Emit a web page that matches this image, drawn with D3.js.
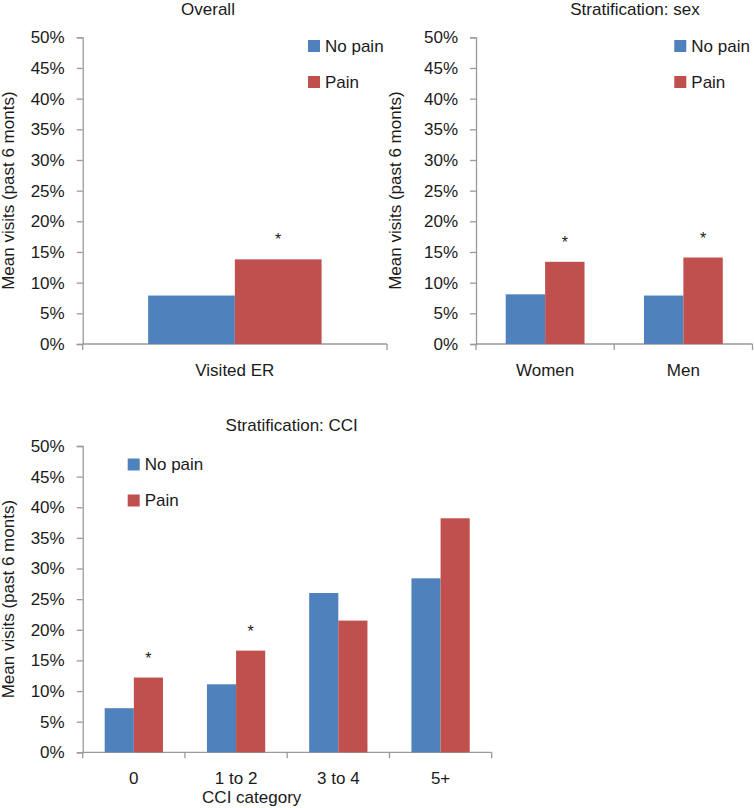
<!DOCTYPE html>
<html>
<head>
<meta charset="utf-8">
<script src="https://cdn.jsdelivr.net/npm/d3@7"></script>
<style>
  html, body { margin: 0; padding: 0; background: #fff; }
  svg { display: block; }
  text { font-family: "Liberation Sans", Arial, sans-serif; fill: #1a1a1a; }
</style>
</head>
<body>
<svg id="chart" width="754" height="808"></svg>
<script>
// ---- Data ----
const series = ["No pain", "Pain"];
const colors = ["#4F81BD", "#C0504D"];
const yTicks = [0, 0.05, 0.10, 0.15, 0.20, 0.25, 0.30, 0.35, 0.40, 0.45, 0.50];
const yLabel = "Mean visits (past 6 monts)";

const overallCategories = ["Visited ER"];
const overallNoPain = [0.079];
const overallPain = [0.138];
const overallSig = [true];

const sexCategories = ["Women", "Men"];
const sexNoPain = [0.081, 0.079];
const sexPain = [0.134, 0.141];
const sexSig = [true, true];

const cciCategories = ["0", "1 to 2", "3 to 4", "5+"];
const cciNoPain = [0.072, 0.111, 0.260, 0.284];
const cciPain = [0.122, 0.166, 0.215, 0.382];
const cciSig = [true, true, false, false];

const FS = 17;
const svg = d3.select("#chart");

function panel(cfg) {
  const g = svg.append("g");
  const x = d3.scaleBand().domain(cfg.categories).range([cfg.left, cfg.right]).padding(0);
  const step = x.bandwidth();
  const x1 = d3.scaleBand().domain(series).range([step * 0.215, step * 0.785]).padding(0);
  const y = d3.scaleLinear().domain([0, 0.5]).range([cfg.bottom, cfg.top]);

  // y axis
  const ya = g.append("g").attr("transform", `translate(${cfg.left},0)`)
    .call(d3.axisLeft(y).tickValues(yTicks).tickFormat(d3.format(".0%")).tickSize(6).tickPadding(12));
  ya.selectAll("path, line").attr("stroke", "#9a9a9a").attr("stroke-width", 1.3);
  ya.selectAll("text").attr("font-size", FS).attr("font-family", "Liberation Sans, Arial, sans-serif").attr("fill", "#1a1a1a");

  // x axis (domain line + boundary ticks)
  g.append("line").attr("x1", cfg.left).attr("x2", cfg.right)
    .attr("y1", cfg.bottom).attr("y2", cfg.bottom).attr("stroke", "#9a9a9a").attr("stroke-width", 1.3);
  const bounds = cfg.categories.map(c => x(c)).concat([cfg.right]);
  g.selectAll(".xt").data(bounds).join("line")
    .attr("x1", d => d).attr("x2", d => d)
    .attr("y1", cfg.bottom).attr("y2", cfg.bottom + 6)
    .attr("stroke", "#9a9a9a").attr("stroke-width", 1.3);
  g.selectAll(".xl").data(cfg.categories).join("text")
    .attr("x", d => x(d) + step / 2).attr("y", cfg.bottom + 32)
    .attr("text-anchor", "middle").attr("font-size", FS).text(d => d);

  // bars
  const rows = cfg.categories.map((c, i) => ({ c, vals: [cfg.noPain[i], cfg.pain[i]], sig: cfg.sig[i] }));
  const grp = g.selectAll(".grp").data(rows).join("g")
    .attr("transform", d => `translate(${x(d.c)},0)`);
  grp.selectAll("rect").data(d => d.vals.map((v, j) => ({ s: series[j], v, j }))).join("rect")
    .attr("x", d => x1(d.s)).attr("width", x1.bandwidth())
    .attr("y", d => y(d.v)).attr("height", d => cfg.bottom - y(d.v))
    .attr("fill", d => colors[d.j]);
  grp.filter(d => d.sig).append("text")
    .attr("x", x1("Pain") + x1.bandwidth() / 2)
    .attr("y", d => y(d.vals[1]) - 14)
    .attr("text-anchor", "middle").attr("font-size", 16).text("*");

  // title
  g.append("text").attr("x", cfg.titleX).attr("y", cfg.titleY)
    .attr("text-anchor", "middle").attr("font-size", FS).text(cfg.title);

  // y label
  g.append("text").attr("transform", `translate(${cfg.ylabX},${(cfg.top + cfg.bottom) / 2}) rotate(-90)`)
    .attr("text-anchor", "middle").attr("dominant-baseline", "central").attr("font-size", FS).text(yLabel);

  // x title
  if (cfg.xTitle) {
    g.append("text").attr("x", cfg.xTitleX).attr("y", cfg.bottom + 51)
      .attr("text-anchor", "middle").attr("font-size", FS).text(cfg.xTitle);
  }

  // legend
  const lg = g.selectAll(".lg").data(series).join("g")
    .attr("transform", (d, i) => `translate(${cfg.legX},${cfg.legY + i * 36})`);
  lg.append("rect").attr("width", 12).attr("height", 12).attr("fill", (d, i) => colors[i]);
  lg.append("text").attr("x", 17).attr("y", 6).attr("dominant-baseline", "central")
    .attr("font-size", FS).text(d => d);
}

panel({ categories: overallCategories, noPain: overallNoPain, pain: overallPain, sig: overallSig,
  left: 82.7, right: 387, top: 37.3, bottom: 344, title: "Overall", titleX: 208, titleY: 15,
  ylabX: 8, legX: 308, legY: 40 });

panel({ categories: sexCategories, noPain: sexNoPain, pain: sexPain, sig: sexSig,
  left: 476, right: 752.5, top: 37.3, bottom: 344, title: "Stratification: sex", titleX: 635, titleY: 15,
  ylabX: 395, legX: 674.3, legY: 40 });

panel({ categories: cciCategories, noPain: cciNoPain, pain: cciPain, sig: cciSig,
  left: 82.7, right: 491.7, top: 446, bottom: 752.3, title: "Stratification: CCI", titleX: 291.7, titleY: 431,
  ylabX: 8, legX: 127.7, legY: 458.5, xTitle: "CCI category", xTitleX: 251.7 });
</script>
</body>
</html>
